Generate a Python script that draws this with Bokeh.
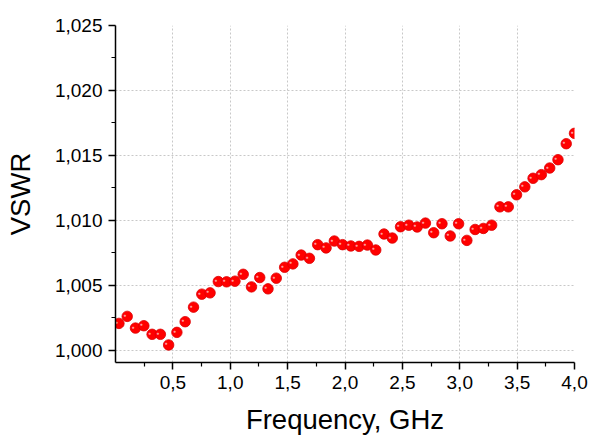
from bokeh.plotting import figure
from bokeh.models import FixedTicker, CustomJSTickFormatter, Range1d, ColumnDataSource
from bokeh.core.properties import value
from bokeh.embed import file_html
from bokeh.resources import INLINE

freq = [0.030, 0.102, 0.174, 0.247, 0.319, 0.391, 0.463, 0.535, 0.607, 0.680,
        0.752, 0.824, 0.896, 0.968, 1.041, 1.113, 1.185, 1.257, 1.329, 1.401,
        1.474, 1.546, 1.618, 1.690, 1.762, 1.835, 1.907, 1.979, 2.051, 2.123,
        2.195, 2.268, 2.340, 2.412, 2.484, 2.556, 2.629, 2.701, 2.773, 2.845,
        2.917, 2.990, 3.062, 3.134, 3.206, 3.278, 3.350, 3.423, 3.495, 3.567,
        3.639, 3.711, 3.784, 3.856, 3.928, 4.000]
vswr = [1.00207, 1.00261, 1.00171, 1.00189, 1.00123, 1.00123, 1.00041, 1.00138, 1.00220, 1.00332,
        1.00432, 1.00442, 1.00529, 1.00527, 1.00532, 1.00585, 1.00488, 1.00560, 1.00473, 1.00555,
        1.00639, 1.00665, 1.00733, 1.00708, 1.00813, 1.00788, 1.00841, 1.00813, 1.00803, 1.00800,
        1.00810, 1.00772, 1.00895, 1.00864, 1.00951, 1.00963, 1.00949, 1.00979, 1.00905, 1.00974,
        1.00880, 1.00974, 1.00846, 1.00930, 1.00938, 1.00963, 1.01104, 1.01104, 1.01197, 1.01258,
        1.01324, 1.01352, 1.01403, 1.01467, 1.01590, 1.01670]

x_major = [0.5, 1.0, 1.5, 2.0, 2.5, 3.0, 3.5, 4.0]
x_minor = [0.25, 0.75, 1.25, 1.75, 2.25, 2.75, 3.25, 3.75]
y_major = [1.000, 1.005, 1.010, 1.015, 1.020, 1.025]
y_minor = [1.0025, 1.0075, 1.0125, 1.0175, 1.0225]

FONT = "Liberation Sans"

p = figure(width=590, height=437, output_backend="svg", toolbar_location=None,
           x_range=Range1d(0, 4.0), y_range=Range1d(0.99906, 1.025),
           min_border_left=115, min_border_right=16, min_border_top=25,
           min_border_bottom=74)
p.outline_line_color = None
p.background_fill_color = "white"
p.border_fill_color = "white"

p.xaxis.ticker = FixedTicker(ticks=x_major, minor_ticks=x_minor)
p.yaxis.ticker = FixedTicker(ticks=y_major, minor_ticks=y_minor)
p.xaxis.formatter = CustomJSTickFormatter(code="return tick.toFixed(1).replace('.', ',');")
p.yaxis.formatter = CustomJSTickFormatter(code="return tick.toFixed(3).replace('.', ',');")

for ax in (p.xaxis[0], p.yaxis[0]):
    ax.axis_line_color = "black"
    ax.axis_line_width = 1.5
    ax.major_tick_line_color = "black"
    ax.major_tick_line_width = 1.5
    ax.minor_tick_line_color = "black"
    ax.minor_tick_line_width = 1.2
    ax.major_tick_out = 7
    ax.major_tick_in = 0
    ax.minor_tick_out = 4
    ax.minor_tick_in = 0
    ax.major_label_text_font = FONT
    ax.major_label_text_font_size = "19px"
    ax.major_label_text_color = "black"
    ax.axis_label_text_font = FONT
    ax.axis_label_text_font_size = "27.5px"
    ax.axis_label_text_font_style = "normal"
    ax.axis_label_text_color = "black"

p.xaxis.axis_label = "Frequency, GHz"
p.yaxis.axis_label = "VSWR"
p.xaxis.major_label_standoff = 6
p.yaxis.major_label_standoff = 6
p.xaxis.axis_label_standoff = 12
p.yaxis.axis_label_standoff = 16

p.xgrid.ticker = FixedTicker(ticks=x_major[:-1])
p.ygrid.ticker = FixedTicker(ticks=y_major[:-1])
for g in (p.xgrid[0], p.ygrid[0]):
    g.grid_line_color = "#c8c8c8"
    g.grid_line_dash = "2 2"
    g.grid_line_width = 1

src = ColumnDataSource(dict(x=freq, y=vswr, t=["\u25CF"] * len(freq)))
p.scatter("x", "y", source=src, size=10.5, fill_color="#ff0000", line_color="#dc0000",
          line_width=0.8)
p.text("x", "y", text="t", source=src, x_offset=-2.5, y_offset=-1.5,
       text_font=value(FONT), text_font_size="5px", text_color="#ffb0b0",
       text_align="center", text_baseline="middle", text_alpha=0.9)

open("out.html", "w").write(file_html(p, INLINE))
